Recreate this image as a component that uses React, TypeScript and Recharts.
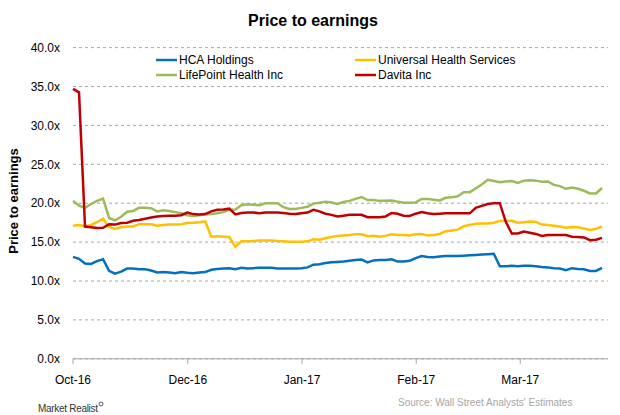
import { LineChart, Line, XAxis, YAxis, CartesianGrid } from 'recharts'

const FONT = "'Liberation Sans', Arial, sans-serif"

const seriesKeys = ['hca', 'uhs', 'lpnt', 'dva']
const seriesNames = ['HCA Holdings', 'Universal Health Services', 'LifePoint Health Inc', 'Davita Inc']
const seriesColors = ['#0070C0', '#FFC000', '#9BBB59', '#C00000']

// one value per trading-day slot
const hca = [
  13.1, 12.85, 12.25, 12.2, 12.55, 12.8, 11.3, 10.95, 11.2, 11.6,
  11.6, 11.5, 11.5, 11.35, 11.1, 11.15, 11.1, 11.0, 11.15, 11.05,
  11.0, 11.1, 11.15, 11.45, 11.55, 11.6, 11.65, 11.5, 11.7, 11.6,
  11.65, 11.7, 11.7, 11.7, 11.6, 11.6, 11.6, 11.6, 11.65, 11.75,
  12.1, 12.15, 12.3, 12.4, 12.45, 12.5, 12.6, 12.7, 12.75, 12.4,
  12.65, 12.7, 12.7, 12.8, 12.5, 12.5, 12.6, 12.95, 13.2, 13.1,
  13.05, 13.15, 13.2, 13.2, 13.2, 13.25, 13.3, 13.35, 13.4, 13.45,
  13.5, 11.9, 11.9, 11.95, 11.9, 11.95, 11.95, 11.9, 11.8, 11.75,
  11.65, 11.6, 11.4, 11.65, 11.55, 11.5, 11.3, 11.3, 11.7,
]
const uhs = [
  17.1, 17.2, 17.0, 17.2, 17.55, 18.0, 16.95, 16.7, 16.9, 17.0,
  17.0, 17.3, 17.3, 17.3, 17.1, 17.2, 17.25, 17.25, 17.3, 17.45,
  17.5, 17.55, 17.65, 15.7, 15.75, 15.7, 15.65, 14.4, 15.1, 15.1,
  15.15, 15.2, 15.2, 15.2, 15.15, 15.1, 15.05, 15.05, 15.05, 15.1,
  15.35, 15.3, 15.5, 15.65, 15.8, 15.85, 15.9, 16.0, 16.0, 15.75,
  15.8, 15.7, 15.8, 16.0, 15.9, 15.9, 15.85, 16.0, 16.05, 15.85,
  15.9, 16.05, 16.4, 16.5, 16.6, 17.05, 17.2, 17.35, 17.4, 17.4,
  17.5, 17.7, 17.75, 17.75, 17.5, 17.55, 17.65, 17.6, 17.25, 17.2,
  17.1, 17.0, 16.85, 16.95, 16.9, 16.75, 16.55, 16.7, 17.0,
]
const lpnt = [
  20.3, 19.7, 19.4, 19.9, 20.3, 20.6, 18.1, 17.8, 18.25, 18.9,
  19.0, 19.4, 19.4, 19.35, 18.95, 19.1, 19.0, 18.85, 18.7, 18.45,
  18.35, 18.45, 18.55, 18.6, 18.7, 18.85, 19.15, 19.2, 19.75, 19.85,
  19.8, 19.75, 20.0, 20.0, 20.0, 19.5, 19.25, 19.25, 19.4, 19.55,
  19.95, 20.05, 20.2, 20.1, 19.9, 20.15, 20.3, 20.55, 20.8, 20.4,
  20.4, 20.3, 20.3, 20.35, 20.2, 20.05, 20.05, 20.1, 20.55, 20.55,
  20.45, 20.35, 20.7, 20.75, 20.9, 21.4, 21.4, 21.9, 22.4, 23.0,
  22.85, 22.7, 22.8, 22.85, 22.6, 22.9, 22.95, 22.9, 22.75, 22.8,
  22.35, 22.2, 21.85, 22.0, 21.85, 21.6, 21.25, 21.25, 21.95,
]
const dva = [
  34.7, 34.25, 17.0, 16.9, 16.8, 16.85, 17.3, 17.25, 17.45, 17.5,
  17.75, 17.85, 18.0, 18.15, 18.3, 18.35, 18.4, 18.4, 18.45, 18.8,
  18.6, 18.55, 18.6, 18.95, 19.15, 19.2, 19.3, 18.55, 18.75, 18.8,
  18.8, 18.7, 18.8, 18.8, 18.8, 18.75, 18.65, 18.6, 18.7, 18.8,
  19.15, 18.95, 18.65, 18.5, 18.3, 18.4, 18.5, 18.5, 18.5, 18.2,
  18.2, 18.2, 18.3, 18.75, 18.65, 18.4, 18.35, 18.65, 18.85, 18.7,
  18.6, 18.65, 18.7, 18.7, 18.7, 18.7, 18.7, 19.4, 19.65, 19.9,
  20.0, 20.0, 17.6, 16.1, 16.1, 16.35, 16.2, 16.05, 15.8, 15.9,
  15.9, 15.9, 15.9, 15.7, 15.65, 15.6, 15.25, 15.3, 15.55,
]

const xTickPos = [0, 19.1, 38.1, 57.1, 74.4]
const xTickLabels = ['Oct-16', 'Dec-16', 'Jan-17', 'Feb-17', 'Mar-17']
const yTicks = [0, 5, 10, 15, 20, 25, 30, 35, 40]

const data = hca.map((v, i) => ({ idx: i, hca: v, uhs: uhs[i], lpnt: lpnt[i], dva: dva[i] }))

const legendPos = [
  { x: 156, y: 60 },
  { x: 355, y: 60 },
  { x: 156, y: 75 },
  { x: 355, y: 75 },
]

export default function App() {
  return (
    <div style={{ position: 'absolute', left: 0, top: 0, width: 620, height: 415, background: '#fff' }}>
      <LineChart width={620} height={415} data={data} margin={{ top: 47.6, right: 12, left: 13, bottom: 26.2 }}>
        <CartesianGrid vertical={false} stroke="#a6a6a6" strokeDasharray="3 3" />
        <XAxis
          dataKey="idx"
          type="number"
          domain={[0, 89]}
          ticks={xTickPos}
          interval={0}
          height={30}
          tickFormatter={(v: number) => xTickLabels[xTickPos.indexOf(v)]}
          tick={{ fontSize: 12, fill: '#000', fontFamily: FONT }}
          axisLine={{ stroke: '#a6a6a6' }}
          tickLine={{ stroke: '#a6a6a6' }}
          tickSize={5}
          tickMargin={12}
        />
        <YAxis
          domain={[0, 40]}
          ticks={yTicks}
          width={60}
          interval={0}
          tickFormatter={(v: number) => v.toFixed(1) + 'x'}
          tick={{ fontSize: 12, fill: '#000', fontFamily: FONT }}
          axisLine={false}
          tickLine={false}
          tickSize={0}
          tickMargin={13}
        />
        {seriesKeys.map((k, i) => (
          <Line
            key={k}
            type="linear"
            dataKey={k}
            stroke={seriesColors[i]}
            strokeWidth={2.5}
            dot={false}
            isAnimationActive={false}
          />
        ))}
      </LineChart>
      <svg width={620} height={415} style={{ position: 'absolute', left: 0, top: 0, pointerEvents: 'none' }}>
        <text x={313} y={26} textAnchor="middle" fontFamily={FONT} fontSize={16} fontWeight="bold" fill="#000">
          Price to earnings
        </text>
        <text
          x={0}
          y={0}
          transform="translate(18, 201) rotate(-90)"
          textAnchor="middle"
          fontFamily={FONT}
          fontSize={13}
          fontWeight="bold"
          fill="#000"
        >
          Price to earnings
        </text>
        {seriesNames.map((name, i) => (
          <g key={name}>
            <line x1={legendPos[i].x} x2={legendPos[i].x + 21} y1={legendPos[i].y} y2={legendPos[i].y} stroke={seriesColors[i]} strokeWidth={2.5} />
            <text x={legendPos[i].x + 23} y={legendPos[i].y + 4} fontFamily={FONT} fontSize={12} fill="#000">
              {name}
            </text>
          </g>
        ))}
        <text x={398} y={406} fontFamily={FONT} fontSize={10} fill="#a6a6a6">
          Source: Wall Street Analysts' Estimates
        </text>
        <text x={38} y={412} fontFamily="'Liberation Sans Narrow', 'Liberation Sans', Arial, sans-serif" fontSize={10} fill="#333" letterSpacing={-0.3}>
          Market Realist
        </text>
        <circle cx={101} cy={404} r={2} fill="none" stroke="#333" strokeWidth={0.8} />
      </svg>
    </div>
  )
}
